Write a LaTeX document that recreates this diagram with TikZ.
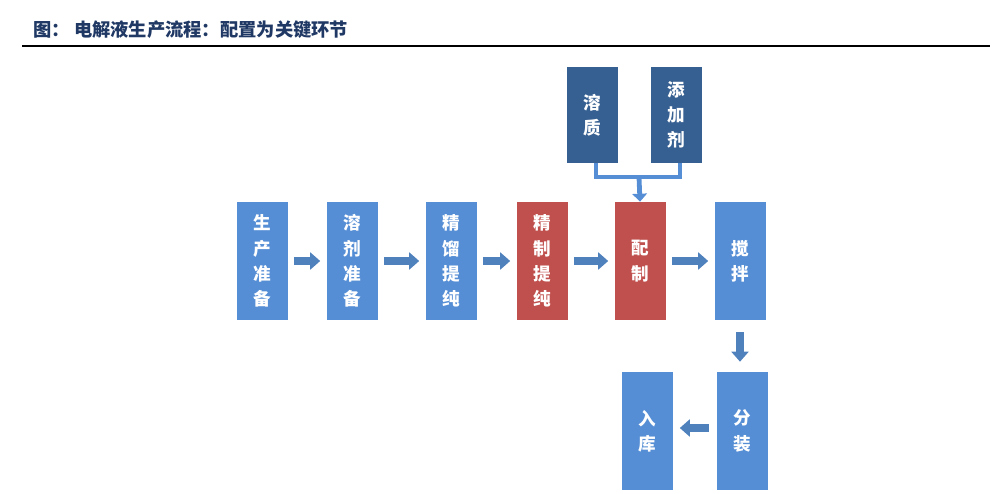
\documentclass[tikz,border=0pt]{standalone}
\usepackage{fontspec}
\newfontfamily\cjk{Noto Sans CJK SC}
\usetikzlibrary{arrows.meta}

\definecolor{boxblue}{HTML}{558ED5}
\definecolor{darkbox}{HTML}{376092}
\definecolor{boxred}{HTML}{C0504D}
\definecolor{arrowblue}{HTML}{4F81BD}
\definecolor{titleblue}{HTML}{1F3864}

\tikzset{
  stage/.style={fill=boxblue, minimum width=12.75mm, minimum height=29.5mm,
    inner sep=0pt, text=white, align=center,
    font=\cjk\bfseries\fontsize{12.5}{18}\selectfont},
  keystage/.style={stage, fill=boxred},
  inputbox/.style={stage, fill=darkbox, minimum height=24mm},
  flow/.style={arrowblue, line width=2mm,
    -{Triangle[length=2.5mm,width=4.2mm]},
    shorten <=1.5mm, shorten >=1.5mm},
  joinline/.style={boxblue, line width=1mm},
  joinarrow/.style={boxblue, line width=1.2mm,
    -{Triangle[length=2mm,width=3.6mm]}}
}

\begin{document}
\begin{tikzpicture}[x=0.25mm, y=-0.25mm]
  \useasboundingbox (0,0) rectangle (1000,494);

  % 标题
  \node[anchor=west, inner sep=0pt, text=titleblue,
    font=\cjk\bfseries\fontsize{13}{15}\selectfont] (title) at (33,30)
    {图：~电解液生产流程：配置为关键环节};
  \draw[line width=0.5mm] (22,46) -- (990,46);

  % 主流程
  \node[stage] (prep) at (262,261) {生\\产\\准\\备};
  \node[stage] (solv) at (352,261) {溶\\剂\\准\\备};
  \node[stage] (dist) at (451,261) {精\\馏\\提\\纯};
  \node[keystage] (refine) at (542,261) {精\\制\\提\\纯};
  \node[keystage] (mix) at (640,261) {配\\制};
  \node[stage] (stir) at (740,261) {搅\\拌};
  \node[stage] (pack) at (742,431) {分\\装};
  \node[stage] (store) at (647,431) {入\\库};

  % 原料
  \node[inputbox] (solute) at (592,115) {溶\\质};
  \node[inputbox] (additive) at (676,115) {添\\加\\剂};
  \coordinate (jn) at (639,177);

  \draw[flow] (prep) -- (solv);
  \draw[flow] (solv) -- (dist);
  \draw[flow] (dist) -- (refine);
  \draw[flow] (refine) -- (mix);
  \draw[flow] (mix) -- (stir);
  \draw[flow, shorten <=3mm, shorten >=2.5mm] (stir.south) -- (stir.south |- pack.north);
  \draw[flow, shorten <=1.75mm, shorten >=1.75mm] ([yshift=0.75mm]pack.west) -- ([yshift=0.75mm]store.east);

  % 溶质、添加剂汇入配制
  \draw[joinline] ([xshift=1mm]solute.south) |- (jn) -| ([xshift=1mm]additive.south);
  \draw[joinarrow] (jn) -- (mix.north);
\end{tikzpicture}
\end{document}
